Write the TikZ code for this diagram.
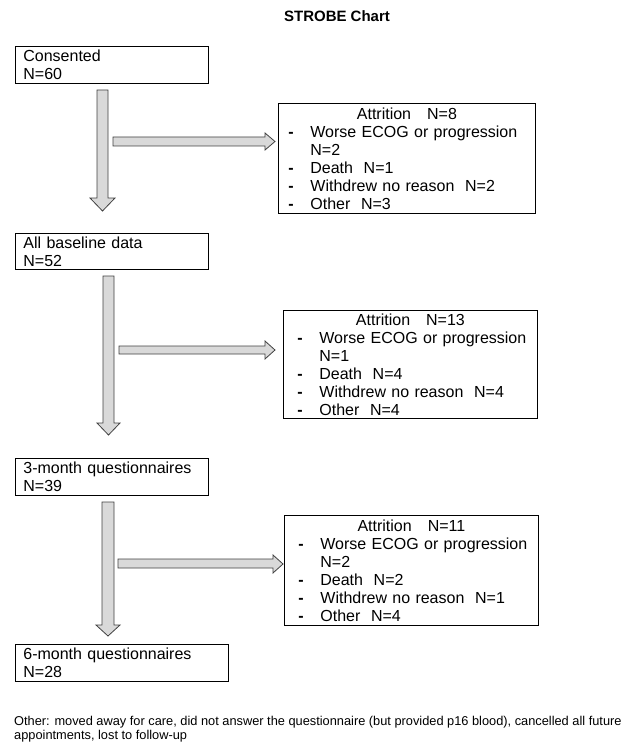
\documentclass[tikz,border=0pt]{standalone}
\usepackage{fontspec}
\setmainfont{Liberation Sans}
\usetikzlibrary{positioning}

\newcommand{\dashitem}{\makebox[22pt][l]{\textbf{-}}}

\tikzset{
  stagebox/.style={draw, line width=0.8pt, anchor=north west, align=left,
    inner xsep=8pt, inner ysep=0pt, minimum height=37pt, text width=#1,
    font=\fontsize{16}{18}\selectfont},
  attrbox/.style={draw, line width=0.8pt, anchor=north west, align=left,
    inner ysep=0pt, text width=#1, font=\fontsize{16}{18}\selectfont},
  fatarrow/.style={draw=black!75, fill=black!15, line width=0.8pt}
}

\begin{document}
\begin{tikzpicture}[x=1pt, y=-1pt]
  \useasboundingbox (0,0) rectangle (624,746);

  \node[anchor=base, font=\bfseries\fontsize{15}{18}\selectfont] (title) at (337,22) {STROBE Chart};

  % stages
  \node[stagebox=177pt] (consent) at (15,46) {Consented\\N=60};
  \node[stagebox=177pt, minimum height=36pt] (baseline) at (15,233) {All baseline data\\N=52};
  \node[stagebox=177pt] (month3) at (15,458) {3-month questionnaires\\N=39};
  \node[stagebox=197pt] (month6) at (15,644) {6-month questionnaires\\N=28};

  % attrition
  \node[attrbox=237pt, inner xsep=10pt, minimum height=110pt] (attr1) at (278,103) {%
    \makebox[237pt]{Attrition\hspace{16pt}N=8}\\
    \dashitem\mbox{Worse ECOG or progression}\\
    \hspace*{22pt}N=2\\
    \dashitem Death\ \ N=1\\
    \dashitem\mbox{Withdrew no reason\ \ N=2}\\
    \dashitem Other\ \ N=3};
  \node[attrbox=226pt, inner xsep=14pt, minimum height=108pt] (attr2) at (283,310) {%
    \makebox[226pt]{Attrition\hspace{16pt}N=13}\\
    \dashitem\mbox{Worse ECOG or progression}\\
    \hspace*{22pt}N=1\\
    \dashitem Death\ \ N=4\\
    \dashitem\mbox{Withdrew no reason\ \ N=4}\\
    \dashitem Other\ \ N=4};
  \node[attrbox=226pt, inner xsep=14pt, minimum height=110pt] (attr3) at (284,515) {%
    \makebox[226pt]{Attrition\hspace{16pt}N=11}\\
    \dashitem\mbox{Worse ECOG or progression}\\
    \hspace*{22pt}N=2\\
    \dashitem Death\ \ N=2\\
    \dashitem\mbox{Withdrew no reason\ \ N=1}\\
    \dashitem Other\ \ N=4};

  % block arrows
  \draw[fatarrow] (97,90) -- (108,90) -- (108,198) -- (115,198) -- (102.5,211)
    -- (90,198) -- (97,198) -- cycle;
  \draw[fatarrow] (103,276) -- (114,276) -- (114,423) -- (120,423) -- (108.5,435)
    -- (97,423) -- (103,423) -- cycle;
  \draw[fatarrow] (102,502) -- (114,502) -- (114,625) -- (120,625) -- (108,636)
    -- (96,625) -- (102,625) -- cycle;

  \draw[fatarrow] (113,137) -- (265,137) -- (265,133) -- (275,141.5) -- (265,150)
    -- (265,146) -- (113,146) -- cycle;
  \draw[fatarrow] (119,346) -- (265,346) -- (265,341) -- (275,350) -- (265,359)
    -- (265,354) -- (119,354) -- cycle;
  \draw[fatarrow] (118,559) -- (273,559) -- (273,555) -- (283,564) -- (273,573)
    -- (273,568) -- (118,568) -- cycle;

  \node[anchor=north west, align=left, inner sep=0pt, font=\fontsize{12.8}{14.5}\selectfont] (note) at (14,716)
    {Other: moved away for care, did not answer the questionnaire (but provided p16 blood), cancelled all future\\
     appointments, lost to follow-up};
\end{tikzpicture}
\end{document}
